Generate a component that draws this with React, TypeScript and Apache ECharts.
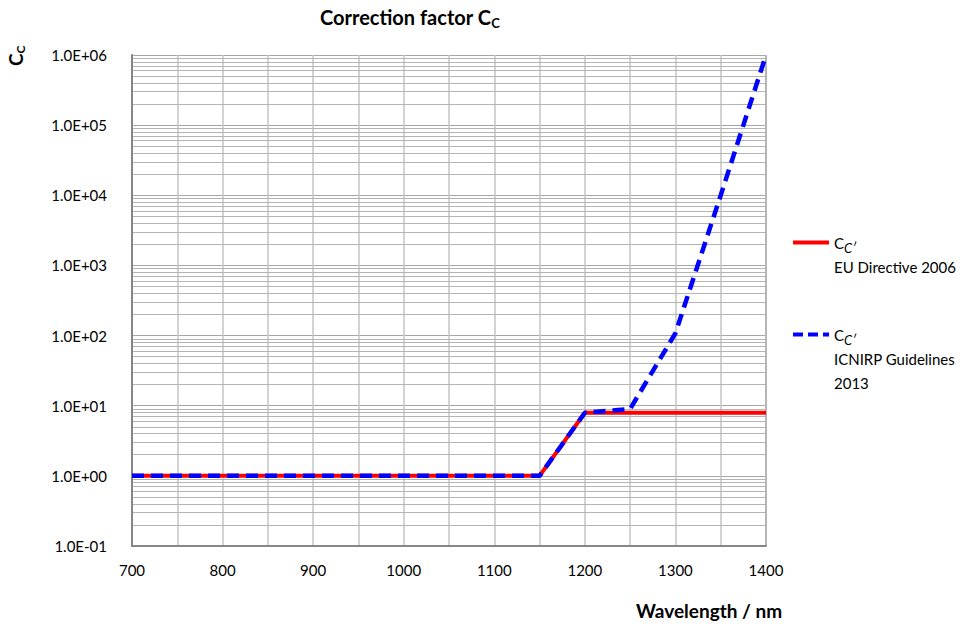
import React, { useEffect, useRef } from "react";
import * as echarts from "echarts";

// ---- data ----
const euWavelength = [700, 1150, 1200, 1400];
const euValue = [1, 1, 7.94, 7.94];
const icnirpWavelength = [700, 1150, 1200, 1250, 1300, 1350, 1400];
const icnirpValue = [1, 1, 7.94, 9, 108, 10000, 1000000];
const xTickLabels = [700, 800, 900, 1000, 1100, 1200, 1300, 1400];
const yDecades = [0.1, 1, 10, 100, 1000, 10000, 100000, 1000000];
const seriesNames = ["EU Directive 2006", "ICNIRP Guidelines 2013"];

const FONT = "Lato, 'Liberation Sans', sans-serif";

function fmtY(v: number): string {
  const e = Math.round(Math.log10(v));
  const sign = e < 0 ? "-" : "+";
  return "1.0E" + sign + String(Math.abs(e)).padStart(2, "0");
}

// minor log grid lines (2..9 × 10^k) — styling only
const minorGrid: { yAxis: number }[] = [];
for (let i = 0; i < yDecades.length - 1; i++) {
  for (let m = 2; m <= 9; m++) minorGrid.push({ yAxis: yDecades[i] * m });
}

export default function App() {
  const ref = useRef<HTMLDivElement>(null);
  useEffect(() => {
    if (!ref.current) return;
    const chart = echarts.init(ref.current, undefined, { renderer: "svg" });
    const subRich = {
      m: { fontFamily: FONT, fontSize: 15, color: "#000", lineHeight: 24 },
      s: { fontFamily: FONT, fontSize: 13, color: "#000", fontStyle: "italic", lineHeight: 14, padding: [10, 0, 0, 0] },
      t: { fontFamily: FONT, fontSize: 15, color: "#000", lineHeight: 24 },
    };
    chart.setOption({
      animation: false,
      backgroundColor: "#fff",
      title: {
        text: "{a|Correction factor C}{b|C}",
        left: 320,
        top: 4,
        padding: 0,
        textStyle: {
          rich: {
            a: { fontFamily: FONT, fontSize: 20, fontWeight: "bold", color: "#000", lineHeight: 26 },
            b: { fontFamily: FONT, fontSize: 13, fontWeight: "bold", color: "#000", lineHeight: 14, padding: [12, 0, 0, 0] },
          },
        },
      },
      legend: [
        {
          data: [{ name: seriesNames[0], icon: "rect" }],
          left: 793,
          top: 211,
          padding: 0,
          orient: "vertical",
          itemWidth: 36,
          itemHeight: 4,
          itemGap: 0,
          formatter: () => "{t| }\n{m|C}{s|C′}\n{t|EU Directive 2006}",
          textStyle: { rich: subRich },
        },
        {
          data: [
            {
              name: seriesNames[1],
              icon: "path://M0,0h10v4h-10z M15,0h10v4h-10z M30,0h6v4h-6z",
            },
          ],
          left: 793,
          top: 279,
          padding: 0,
          orient: "vertical",
          itemWidth: 36,
          itemHeight: 4,
          itemGap: 0,
          formatter: () => "{t| }\n{t| }\n{m|C}{s|C′}\n{t|ICNIRP Guidelines}\n{t|2013}",
          textStyle: { rich: subRich },
        },
      ],
      grid: { left: 132, right: 206, top: 55, bottom: 80 },
      xAxis: {
        type: "value",
        min: 700,
        max: 1400,
        interval: 50,
        axisLine: { show: true, lineStyle: { color: "#868686", width: 2 } },
        axisTick: { show: false },
        axisLabel: {
          fontFamily: FONT,
          fontSize: 15,
          color: "#000",
          margin: 16,
          formatter: (v: number) => (xTickLabels.includes(v) ? String(v) : ""),
        },
        splitLine: { show: true, lineStyle: { color: "#c4c4c4", width: 1.5 } },
      },
      yAxis: {
        type: "log",
        logBase: 10,
        min: 0.1,
        max: 1000000,
        axisLine: { show: true, lineStyle: { color: "#868686", width: 2 } },
        axisTick: { show: false },
        axisLabel: {
          fontFamily: FONT,
          fontSize: 15,
          color: "#000",
          margin: 25,
          formatter: (v: number) => fmtY(v),
        },
        splitLine: { show: true, lineStyle: { color: "#a6a6a6", width: 1 } },
      },
      graphic: [
        {
          type: "text",
          x: 4,
          y: 66,
          rotation: Math.PI / 2,
          style: {
            text: "{a|C}{b|C}",
            rich: {
              a: { fontFamily: FONT, fontSize: 19, fontWeight: "bold", fill: "#000", lineHeight: 22 },
              b: { fontFamily: FONT, fontSize: 12, fontWeight: "bold", fill: "#000", lineHeight: 12, padding: [10, 0, 0, 0] },
            },
          },
        },
        {
          type: "text",
          left: 636,
          top: 601,
          style: {
            text: "Wavelength / nm",
            font: `bold 19px ${FONT}`,
            fill: "#000",
          },
        },
        {
          type: "rect",
          shape: { x: 766, y: 55, width: 0, height: 491 },
          style: { stroke: "#868686", lineWidth: 2, fill: "none" },
        },
      ],
      series: [
        {
          type: "line",
          name: "grid-minor",
          data: [],
          silent: true,
          z: 0,
          markLine: {
            silent: true,
            z: 0,
            symbol: "none",
            label: { show: false },
            lineStyle: { color: "#b4b4b4", width: 1, type: "solid" },
            data: minorGrid,
          },
        },
        {
          type: "line",
          name: seriesNames[0],
          data: euWavelength.map((x, i) => [x, euValue[i]]),
          showSymbol: false,
          symbol: "none",
          color: "#ff0000",
          lineStyle: { color: "#ff0000", width: 4 },
          z: 6,
        },
        {
          type: "line",
          name: seriesNames[1],
          data: icnirpWavelength.map((x, i) => [x, icnirpValue[i]]),
          showSymbol: false,
          symbol: "none",
          color: "#0000ff",
          lineStyle: { color: "#0000ff", width: 4.5, type: [12, 7] },
          z: 7,
        },
      ],
    });
    return () => chart.dispose();
  }, []);
  return (
    <div
      ref={ref}
      style={{ position: "fixed", left: 0, top: 0, width: 972, height: 626 }}
    />
  );
}
